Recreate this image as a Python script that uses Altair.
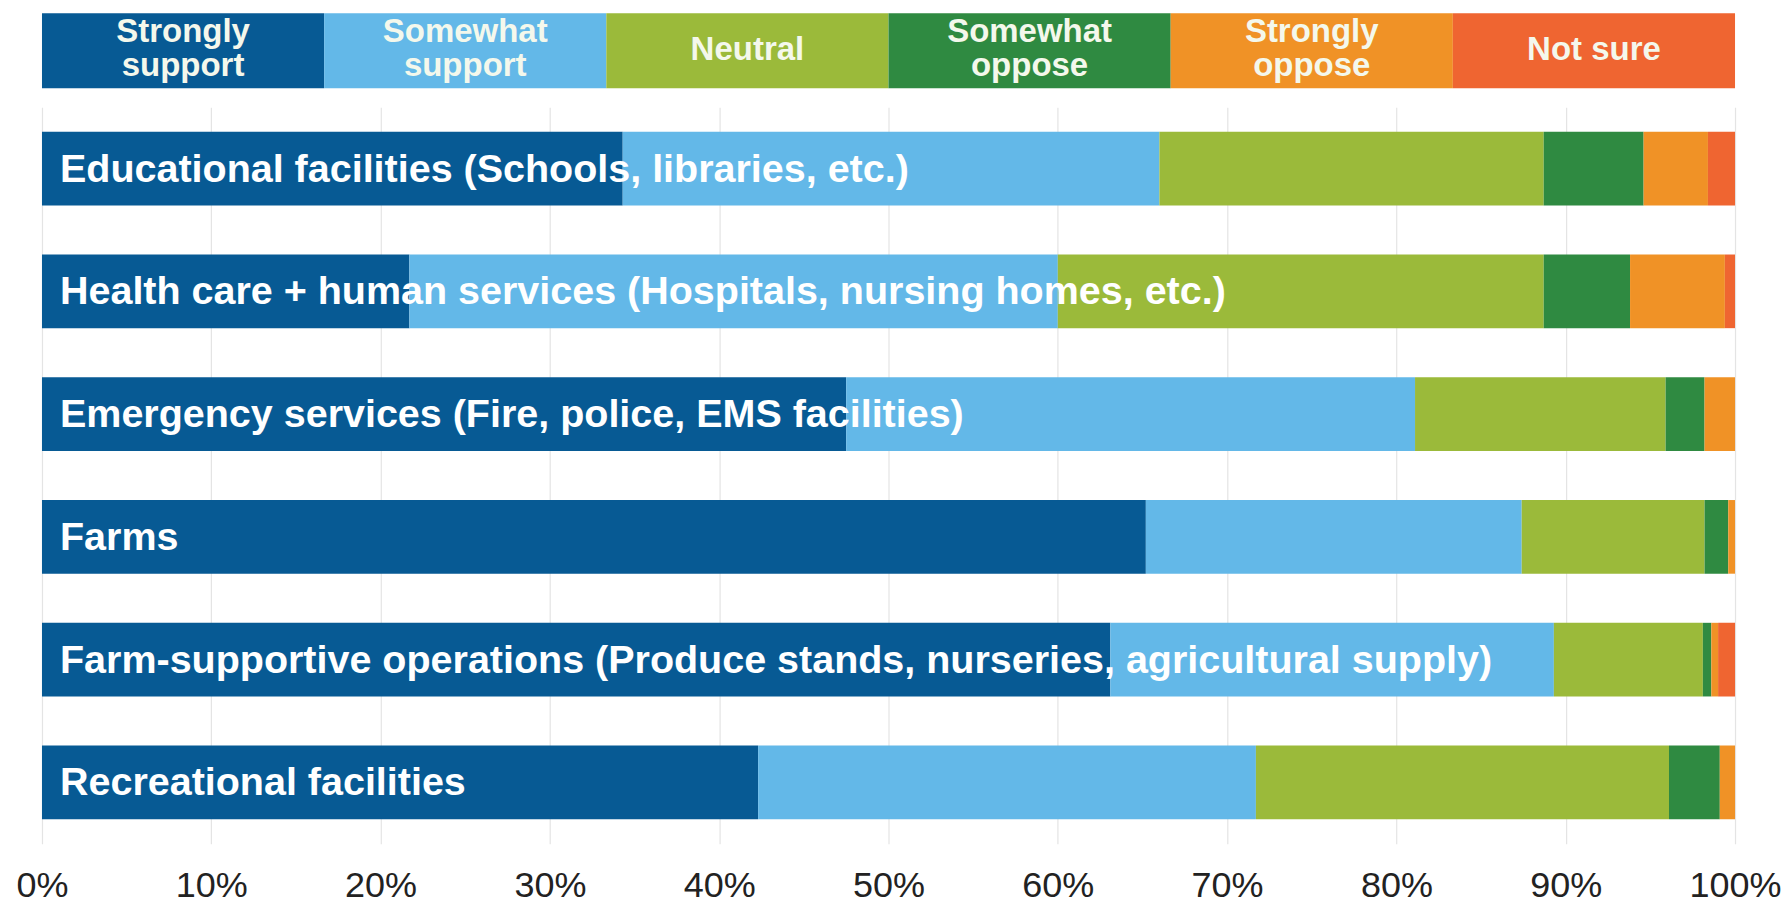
import altair as alt
import pandas as pd

categories = [
    "Educational facilities (Schools, libraries, etc.)",
    "Health care + human services (Hospitals, nursing homes, etc.)",
    "Emergency services (Fire, police, EMS facilities)",
    "Farms",
    "Farm-supportive operations (Produce stands, nurseries, agricultural supply)",
    "Recreational facilities",
]
responses = ["Strongly support", "Somewhat support", "Neutral",
             "Somewhat oppose", "Strongly oppose", "Not sure"]
header_labels = ["Strongly\nsupport", "Somewhat\nsupport", "Neutral",
                 "Somewhat\noppose", "Strongly\noppose", "Not sure"]
colors = ["#075A94", "#63B8E8", "#9BBA3A", "#2F8A41", "#F09226", "#EF6531"]

strongly_support = [34.3, 21.7, 47.5, 65.2, 63.1, 42.3]
somewhat_support = [31.7, 38.3, 33.6, 22.2, 26.2, 29.4]
neutral = [22.7, 28.7, 14.8, 10.8, 8.8, 24.4]
somewhat_oppose = [5.9, 5.1, 2.3, 1.4, 0.5, 3.0]
strongly_oppose = [3.8, 5.6, 1.8, 0.4, 0.4, 0.9]
not_sure = [1.6, 0.6, 0.0, 0.0, 1.0, 0.0]

series = [strongly_support, somewhat_support, neutral,
          somewhat_oppose, strongly_oppose, not_sure]

rows = []
for ri, (resp, vals) in enumerate(zip(responses, series)):
    for cat, v in zip(categories, vals):
        rows.append({"category": cat, "response": resp, "value": v, "order": ri})
df = pd.DataFrame(rows)
labels_df = pd.DataFrame({"category": categories})
header_df = pd.DataFrame({"response": responses, "label": header_labels})

color_scale = alt.Scale(domain=responses, range=colors)
FONT = "Liberation Sans"
W = 1694

header_base = alt.Chart(header_df).encode(
    x=alt.X("response:N", sort=responses, axis=None,
            scale=alt.Scale(paddingInner=0, paddingOuter=0)),
)
text_style = dict(font=FONT, fontSize=33, fontWeight="bold", color="#F4F8EC",
                  lineBreak="\n", lineHeight=34, baseline="middle", align="center")
header = alt.layer(
    header_base.mark_bar().encode(
        color=alt.Color("response:N", scale=color_scale, legend=None)
    ),
    header_base.mark_text(**text_style).encode(
        text="label:N", y=alt.value(19)
    ).transform_filter("indexof(datum.label, '\\n') >= 0"),
    header_base.mark_text(**text_style).encode(
        text="label:N", y=alt.value(37)
    ).transform_filter("indexof(datum.label, '\\n') < 0"),
).properties(width=W, height=75)

y_enc = alt.Y("category:N", sort=categories, axis=None,
              scale=alt.Scale(paddingInner=0.4, paddingOuter=0.2))

bars = alt.Chart(df).mark_bar().encode(
    x=alt.X("value:Q", stack="zero",
            scale=alt.Scale(domain=[0, 100], nice=False),
            axis=alt.Axis(values=list(range(0, 101, 10)),
                          labelExpr="datum.value + '%'",
                          title=None, ticks=False, domain=False,
                          labelFlush=False, labelOverlap=False,
                          grid=True, gridColor="#E4E4E4", gridWidth=1.2,
                          labelFont=FONT, labelFontSize=36, labelColor="#222222",
                          labelPadding=25)),
    y=y_enc,
    color=alt.Color("response:N", scale=color_scale, legend=None),
    order=alt.Order("order:Q"),
)

text = alt.Chart(labels_df).mark_text(
    font=FONT, fontSize=39.5, fontWeight="bold", color="#FFFFFF",
    align="left", baseline="middle", dy=1
).encode(
    x=alt.value(18),
    y=y_enc,
    text="category:N",
)

main = alt.layer(bars, text).properties(width=W, height=737)

chart = alt.vconcat(header, main, spacing=19).properties(
    padding={"left": 7, "top": 5, "right": 0, "bottom": 0}
).configure(background="#FFFFFF", view=alt.ViewConfig(stroke=None))

chart.save("out.html", embed_options={"renderer": "svg", "actions": False})
